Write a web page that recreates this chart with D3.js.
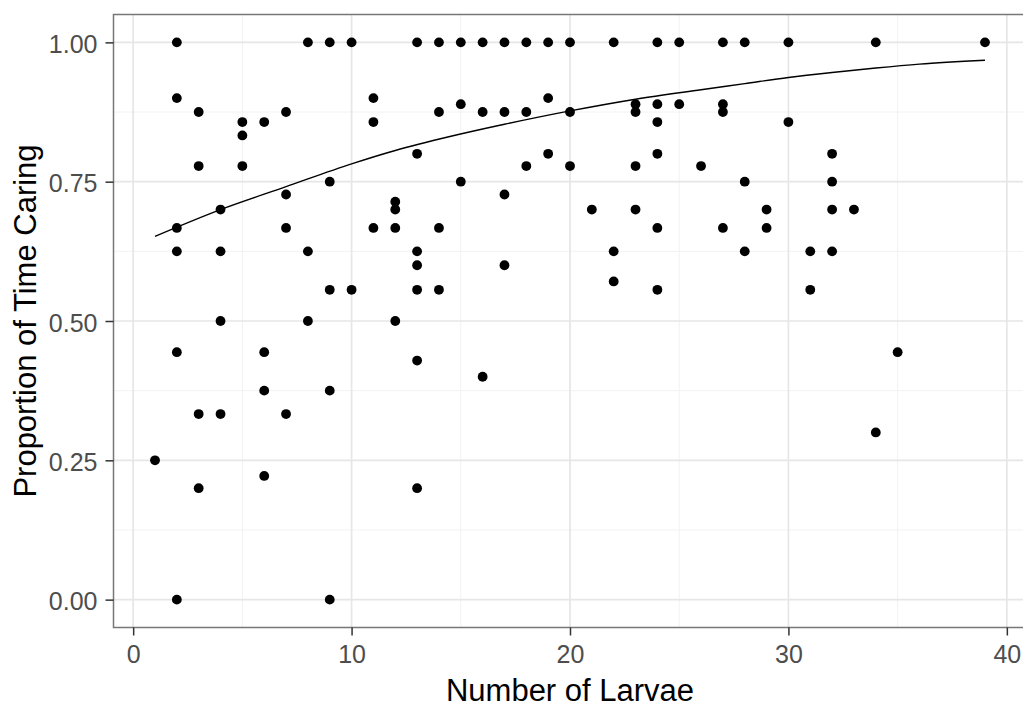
<!DOCTYPE html>
<html>
<head>
<meta charset="utf-8">
<script src="https://cdn.jsdelivr.net/npm/d3@7"></script>
<style>
  html, body { margin: 0; padding: 0; background: #fff; }
  svg { display: block; font-family: "Liberation Sans", Arial, sans-serif; }
</style>
</head>
<body>
<svg id="chart" width="1023" height="708"></svg>
<script>
// Observations: number of larvae in the brood and proportion of time spent caring
const larvae = [
  1,
  2, 2, 2, 2, 2, 2,
  3, 3, 3, 3,
  4, 4, 4, 4,
  5, 5, 5,
  6, 6, 6, 6,
  7, 7, 7, 7,
  8, 8, 8,
  9, 9, 9, 9, 9,
  10, 10,
  11, 11, 11,
  12, 12, 12, 12,
  13, 13, 13, 13, 13, 13, 13,
  14, 14, 14, 14,
  15, 15, 15,
  16, 16, 16,
  17, 17, 17, 17,
  18, 18, 18,
  19, 19, 19,
  20, 20, 20,
  21,
  22, 22, 22,
  23, 23, 23, 23,
  24, 24, 24, 24, 24, 24,
  25, 25,
  26,
  27, 27, 27, 27,
  28, 28, 28,
  29, 29,
  30, 30,
  31, 31,
  32, 32, 32, 32,
  33,
  34, 34,
  35,
  39
];
const proportion = [
  0.25,
  1.0, 0.9, 0.667, 0.625, 0.444, 0.0,
  0.875, 0.778, 0.333, 0.2,
  0.7, 0.625, 0.5, 0.333,
  0.857, 0.833, 0.778,
  0.857, 0.444, 0.375, 0.222,
  0.875, 0.727, 0.667, 0.333,
  1.0, 0.625, 0.5,
  1.0, 0.75, 0.556, 0.375, 0.0,
  1.0, 0.556,
  0.9, 0.857, 0.667,
  0.714, 0.7, 0.667, 0.5,
  1.0, 0.8, 0.625, 0.6, 0.556, 0.429, 0.2,
  1.0, 0.875, 0.667, 0.556,
  1.0, 0.889, 0.75,
  1.0, 0.875, 0.4,
  1.0, 0.875, 0.727, 0.6,
  1.0, 0.875, 0.778,
  1.0, 0.9, 0.8,
  1.0, 0.875, 0.778,
  0.7,
  1.0, 0.625, 0.571,
  0.889, 0.875, 0.778, 0.7,
  1.0, 0.889, 0.857, 0.8, 0.667, 0.556,
  1.0, 0.889,
  0.778,
  1.0, 0.889, 0.875, 0.667,
  1.0, 0.75, 0.625,
  0.7, 0.667,
  1.0, 0.857,
  0.625, 0.556,
  0.8, 0.75, 0.7, 0.625,
  0.7,
  1.0, 0.3,
  0.444,
  1.0
];

// Fitted trend (logistic smooth) sampled along the larvae range
const fitLarvae     = [1, 4, 7, 10, 12, 14.5, 17, 20, 23, 26, 28, 30, 32, 34, 36, 39];
const fitProportion = [0.652, 0.700, 0.741, 0.782, 0.806, 0.831, 0.853, 0.877, 0.898, 0.915, 0.926, 0.937, 0.946, 0.954, 0.961, 0.968];

const xTicks = [0, 10, 20, 30, 40];
const xMinor = [5, 15, 25, 35];
const yTicks = [0, 0.25, 0.5, 0.75, 1.0];
const yMinor = [0.125, 0.375, 0.625, 0.875];
const xTitle = "Number of Larvae";
const yTitle = "Proportion of Time Caring";

const svg = d3.select("#chart");
const panel = { left: 113.5, right: 1026.5, top: 14.5, bottom: 627.5 };

// 5% padding around the data range on each axis
const xExt = d3.extent(larvae), xPad = (xExt[1] - xExt[0]) * 0.05;
const yExt = [0, 1], yPad = (yExt[1] - yExt[0]) * 0.05;

const x = d3.scaleLinear().domain([xExt[0] - xPad, xExt[1] + xPad]).range([panel.left, panel.right]);
const y = d3.scaleLinear().domain([yExt[0] - yPad, yExt[1] + yPad]).range([panel.bottom, panel.top]);

// Grid
const grid = svg.append("g");
grid.selectAll("line.xminor").data(xMinor).join("line")
  .attr("x1", d => x(d)).attr("x2", d => x(d))
  .attr("y1", panel.top).attr("y2", panel.bottom)
  .attr("stroke", "#f2f2f2").attr("stroke-width", 1);
grid.selectAll("line.yminor").data(yMinor).join("line")
  .attr("y1", d => y(d)).attr("y2", d => y(d))
  .attr("x1", panel.left).attr("x2", panel.right)
  .attr("stroke", "#f2f2f2").attr("stroke-width", 1);
grid.selectAll("line.xmajor").data(xTicks).join("line")
  .attr("x1", d => x(d)).attr("x2", d => x(d))
  .attr("y1", panel.top).attr("y2", panel.bottom)
  .attr("stroke", "#e6e6e6").attr("stroke-width", 1.7);
grid.selectAll("line.ymajor").data(yTicks).join("line")
  .attr("y1", d => y(d)).attr("y2", d => y(d))
  .attr("x1", panel.left).attr("x2", panel.right)
  .attr("stroke", "#e6e6e6").attr("stroke-width", 1.7);

// Points
svg.append("g").selectAll("circle").data(larvae.map((d, i) => [d, proportion[i]])).join("circle")
  .attr("cx", d => x(d[0])).attr("cy", d => y(d[1]))
  .attr("r", 4.9).attr("fill", "#000");

// Smooth trend line
const line = d3.line().x(d => x(d[0])).y(d => y(d[1])).curve(d3.curveMonotoneX);
svg.append("path")
  .datum(fitLarvae.map((d, i) => [d, fitProportion[i]]))
  .attr("d", line).attr("fill", "none")
  .attr("stroke", "#000").attr("stroke-width", 1.4);

// Panel border
svg.append("rect")
  .attr("x", panel.left).attr("y", panel.top)
  .attr("width", panel.right - panel.left).attr("height", panel.bottom - panel.top)
  .attr("fill", "none").attr("stroke", "#777").attr("stroke-width", 1.5);

// Axes
const xAxis = svg.append("g").attr("transform", `translate(0,${panel.bottom})`)
  .call(d3.axisBottom(x).tickValues(xTicks).tickFormat(d3.format("d")).tickSize(8).tickPadding(10));
const yAxis = svg.append("g").attr("transform", `translate(${panel.left},0)`)
  .call(d3.axisLeft(y).tickValues(yTicks).tickFormat(d3.format(".2f")).tickSize(8).tickPadding(8));
[xAxis, yAxis].forEach(a => {
  a.select(".domain").remove();
  a.selectAll(".tick line").attr("stroke", "#333").attr("stroke-width", 1.5);
  a.selectAll(".tick text").attr("fill", "#4d4d4d")
    .style("font-size", "25px").style("font-family", "'Liberation Sans', Arial, sans-serif");
});
yAxis.selectAll(".tick text").attr("dy", "0.4em");

// Axis titles
svg.append("text")
  .attr("x", (panel.left + panel.right) / 2).attr("y", 701)
  .attr("text-anchor", "middle").attr("fill", "#000")
  .style("font-size", "31px").text(xTitle);
svg.append("text")
  .attr("transform", `translate(36,${(panel.top + panel.bottom) / 2}) rotate(-90)`)
  .attr("text-anchor", "middle").attr("fill", "#000")
  .style("font-size", "31px").text(yTitle);
</script>
</body>
</html>
